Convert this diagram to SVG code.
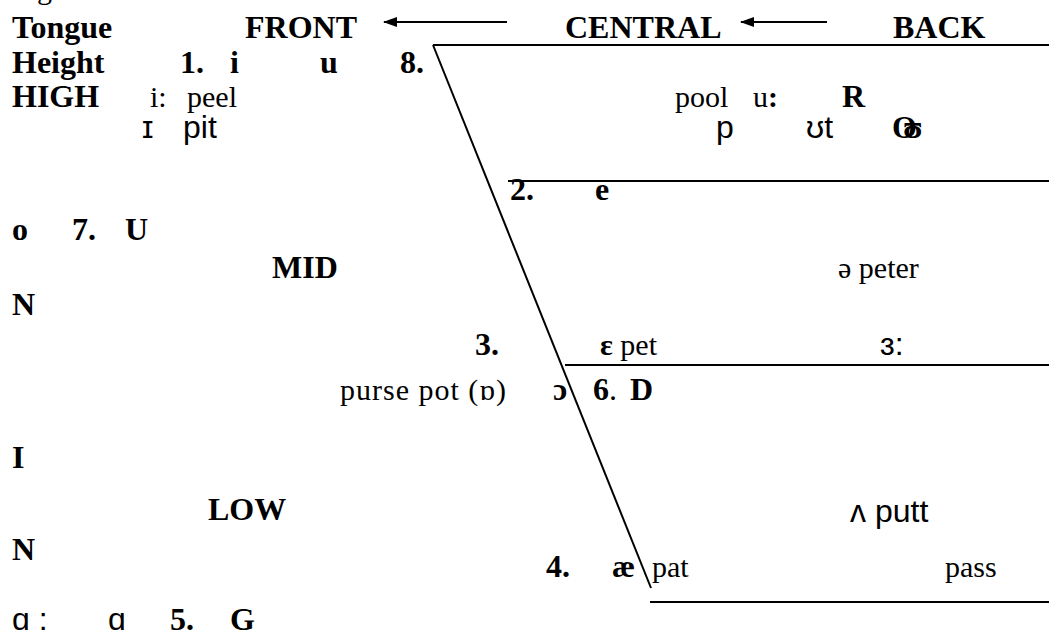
<svg xmlns="http://www.w3.org/2000/svg" width="1049" height="640" viewBox="0 0 1049 640">
<defs>
<style>
.b{font-family:"Liberation Serif","Times New Roman",serif;font-weight:bold;font-size:32px;fill:#000}
.r{font-family:"Liberation Serif","Times New Roman",serif;font-size:30px;fill:#000}
.s{font-family:"Liberation Sans",Arial,sans-serif;font-size:32px;fill:#000}
.ln{stroke:#000;stroke-width:2;fill:none}
</style>
<marker id="ah" viewBox="0 0 14 10" refX="13" refY="5" markerWidth="14" markerHeight="10" orient="auto" markerUnits="userSpaceOnUse">
<path d="M14,5 L0,0 L0,10 Z" fill="#000"/>
</marker>
</defs>
<rect width="1049" height="640" fill="#fff"/>
<text class="r" x="12" y="-1">Figure 1: The Vowel Chart</text>
<g id="connectors">
<line class="ln" x1="507" y1="22" x2="384" y2="22" marker-end="url(#ah)"/>
<line class="ln" x1="827" y1="22" x2="741" y2="22" marker-end="url(#ah)"/>
<line class="ln" x1="433" y1="45" x2="1049" y2="45"/>
<line class="ln" x1="433" y1="45" x2="651" y2="588" stroke-width="1.5"/>
<line class="ln" x1="508" y1="181" x2="1049" y2="181"/>
<line class="ln" x1="565" y1="365" x2="1049" y2="365"/>
<line class="ln" x1="650" y1="602" x2="1049" y2="602"/>
</g>
<g id="header">
<text class="b" x="12" y="38">Tongue</text>
<text class="b" x="245" y="38">FRONT</text>
<text class="b" x="565" y="38">CENTRAL</text>
<text class="b" x="893" y="38">BACK</text>
<text class="b" x="12" y="73">Height</text>
<text class="b" x="180" y="73">1.</text>
<text class="b" x="230" y="73">i</text>
<text class="b" x="320" y="73">u</text>
<text class="b" x="400" y="73">8.</text>
</g>
<g id="high">
<text class="b" x="12" y="107">HIGH</text>
<text class="r" x="150" y="107">i:</text>
<text class="r" x="187" y="107">peel</text>
<text class="r" x="675" y="107">pool</text>
<text class="r" x="753" y="107">u<tspan font-weight="bold">:</tspan></text>
<text class="b" x="842" y="107">R</text>
<text class="s" x="142" y="138">ɪ</text>
<text class="s" x="183" y="138">pit</text>
<text class="s" x="716" y="138">p</text>
<text class="s" x="806" y="138">ʊt</text>
<text class="b" x="892" y="138">O<tspan dx="-14">ʊ</tspan></text>
</g>
<g id="mid">
<text class="b" x="510" y="200">2.</text>
<text class="b" x="595" y="200">e</text>
<text class="b" x="12" y="240">o</text>
<text class="b" x="72" y="240">7.</text>
<text class="b" x="125" y="240">U</text>
<text class="b" x="272" y="278">MID</text>
<text class="r" x="838" y="278">ə peter</text>
<text class="b" x="12" y="315">N</text>
<text class="b" x="475" y="355">3.</text>
<text class="r" x="600" y="355"><tspan font-weight="bold">ɛ</tspan> pet</text>
<text class="s" x="880" y="355">ɜ:</text>
<text class="r" x="340" y="400" textLength="166">purse pot (ɒ)</text>
<text class="b" x="553" y="400">ɔ</text>
<text class="b" x="593" y="400">6<tspan font-weight="normal">.</tspan></text>
<text class="b" x="630" y="400">D</text>
</g>
<g id="low">
<text class="b" x="12" y="468">I</text>
<text class="b" x="208" y="520">LOW</text>
<text class="s" x="850" y="522">ʌ putt</text>
<text class="b" x="12" y="560">N</text>
<text class="b" x="546" y="577">4.</text>
<text class="b" x="612" y="577">æ</text>
<text class="r" x="652" y="577">pat</text>
<text class="r" x="945" y="577">pass</text>
<text class="s" x="12" y="630">ɑ :</text>
<text class="s" x="108" y="630">ɑ</text>
<text class="b" x="170" y="630">5.</text>
<text class="b" x="230" y="630">G</text>
</g>
</svg>
